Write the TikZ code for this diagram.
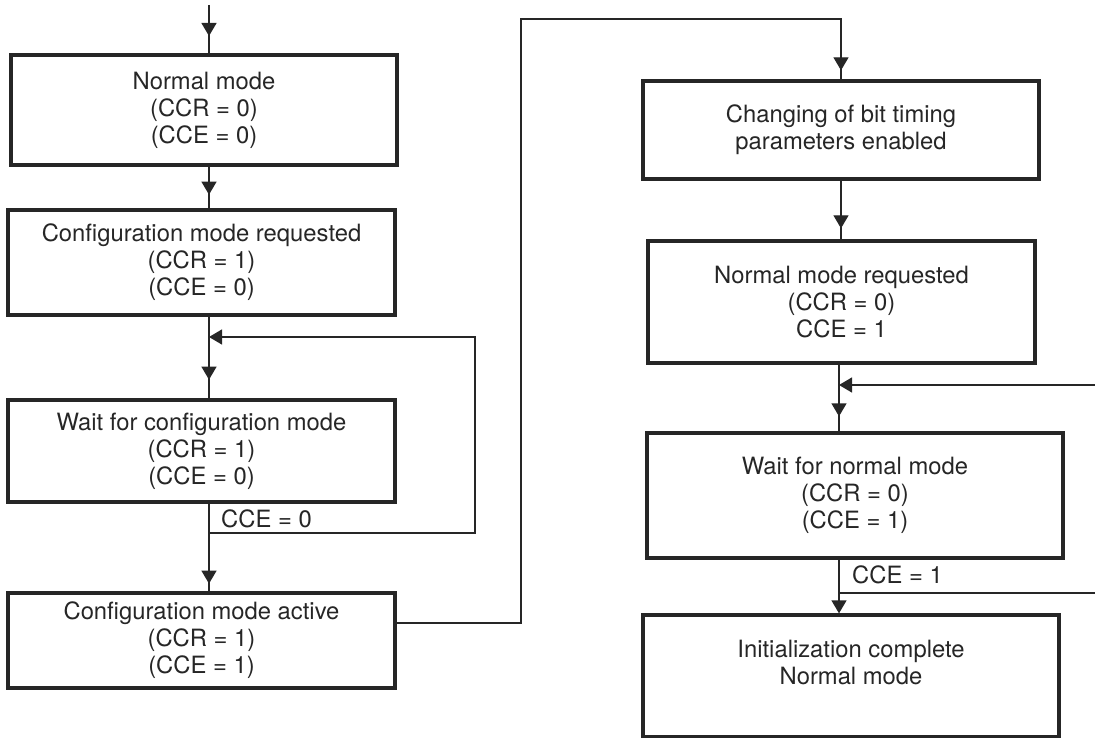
\documentclass[tikz,border=0pt]{standalone}
\usepackage{fontspec}
\setmainfont{TeX Gyre Heros}
\usetikzlibrary{arrows.meta,decorations.markings}
\definecolor{ink}{HTML}{262626}
\begin{document}
\begin{tikzpicture}[x=1pt,y=-1pt,
  >={Triangle[length=13pt,width=15pt]},
  box/.style={draw=ink, line width=3.3pt, rectangle, inner sep=0pt, align=center,
    text=ink, font=\fontsize{23.8}{27}\selectfont},
  conn/.style={draw=ink, line width=1.3pt},
  midarrow/.style={postaction={decorate},
    decoration={markings, mark=at position #1 with {\arrow{>}}}},
  lbl/.style={anchor=base west, inner sep=0pt, text=ink, font=\fontsize{23.8}{27}\selectfont}]
\useasboundingbox (0,0) rectangle (1095,738);

% left column
\node[box, minimum width=386pt, minimum height=110pt] (L1) at (204,110) {Normal mode\\(CCR = 0)\\(CCE = 0)};
\node[box, minimum width=387pt, minimum height=105pt] (L2) at (201.5,262.5) {Configuration mode requested\\(CCR = 1)\\(CCE = 0)};
\node[box, minimum width=387pt, minimum height=102pt] (L3) at (201.5,451) {Wait for configuration mode\\(CCR = 1)\\(CCE = 0)};
\node[box, minimum width=387pt, minimum height=95pt] (L4) at (201.5,640.5) {Configuration mode active\\(CCR = 1)\\(CCE = 1)};

% right column
\node[box, minimum width=396pt, minimum height=98pt] (R1) at (841,130) {Changing of bit timing\\parameters enabled};
\node[box, minimum width=387pt, minimum height=122pt] (R2) at (841.5,302) {Normal mode requested\\(CCR = 0)\\CCE = 1};
\node[box, minimum width=416pt, minimum height=125pt] (R3) at (855,495.5) {Wait for normal mode\\(CCR = 0)\\(CCE = 1)};
\node[box, minimum width=416pt, minimum height=122pt] (R4) at (851,676) {Initialization complete\\Normal mode\\\mbox{}};

% helper coordinates
\coordinate (top) at (209,5);
\coordinate (j1) at (209,533);
\coordinate (m1) at (209,337);
\coordinate (lr) at (475,0);
\coordinate (c1) at (521,623);
\coordinate (ty) at (0,19);
\coordinate (cr) at (839,0);
\coordinate (in) at (1095,385);
\coordinate (out) at (1095,593);

% left connectors
\draw[conn, midarrow=31pt] (top) -- (top |- L1.north);
\draw[conn, midarrow=28pt] (L1.south -| top) -- (L2.north -| top);
\draw[conn, midarrow=63pt] (L2.south -| top) -- (L3.north -| top);
\draw[conn, midarrow=80pt] (L3.south -| top) -- (L4.north -| top);
\draw[conn, ->] (j1) -- (j1 -| lr) -- (m1 -| lr) -- (m1);
\node[lbl] (lc0) at (221,527.5) {CCE = 0};

% crossing connector
\draw[conn, midarrow=-9pt] (L4.east |- c1) -- (c1) -- (c1 |- ty) -- (R1.north |- ty) -- (R1.north);

% right connectors
\draw[conn, midarrow=-11pt] (R1.south) -- (R1.south |- R2.north);
\draw[conn, midarrow=-15pt] (R2.south -| cr) -- (R3.north -| cr);
\draw[conn, ->] (in) -- (in -| cr);
\draw[conn, ->] (R3.south -| cr) -- (R4.north -| cr);
\draw[conn] (out -| cr) -- (out);
\node[lbl] (lc1) at (852,583.5) {CCE = 1};
\end{tikzpicture}
\end{document}
